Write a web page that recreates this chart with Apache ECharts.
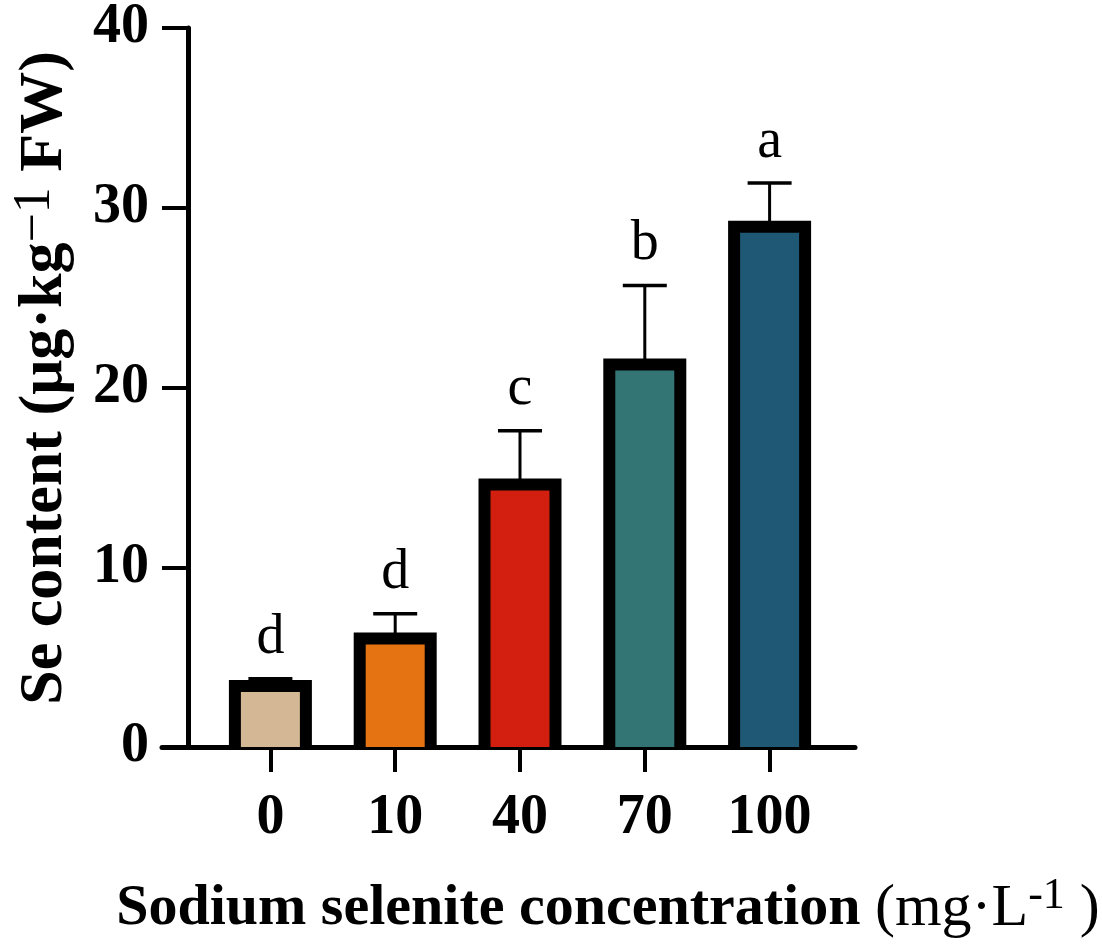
<!DOCTYPE html>
<html>
<head>
<meta charset="utf-8">
<style>
  html, body { margin: 0; padding: 0; background: #fff; }
  #main { width: 1102px; height: 950px; }
</style>
</head>
<body>
<div id="main"></div>
<script src="https://cdn.jsdelivr.net/npm/echarts@6/dist/echarts.min.js"></script>
<script>
// data
var categories = ['0', '10', '40', '70', '100'];
var means = [3.39, 6.04, 14.6, 21.28, 28.94];
var sds = [0.40, 1.37, 3.0, 4.4, 2.43];
var letters = ['d', 'd', 'c', 'b', 'a'];
var yTicks = [0, 10, 20, 30, 40];

var barColors = ['#D4B795', '#E57312', '#D21F10', '#327574', '#1E5874'];
var serif = '"Liberation Serif", "Times New Roman", serif';

var chart = echarts.init(document.getElementById('main'));

// bar drawn GraphPad style: thick border centred on the bar edge, open at the base
function renderBar(params, api) {
    var i = api.value(0);
    var top = api.coord([i, api.value(1)]);
    var base = api.coord([i, 0]);
    var half = 35.5, bw = 12;
    return {
        type: 'group',
        children: [
            { type: 'rect', shape: { x: top[0] - half, y: top[1], width: half * 2, height: base[1] - top[1] },
              style: { fill: barColors[i] } },
            { type: 'polyline',
              shape: { points: [[top[0] - half, base[1] + 2], [top[0] - half, top[1]], [top[0] + half, top[1]], [top[0] + half, base[1] + 2]] },
              style: { stroke: '#000', lineWidth: bw, fill: null, lineJoin: 'miter' } }
        ]
    };
}

function renderErr(params, api) {
    var i = api.value(0);
    var p0 = api.coord([i, api.value(1)]);
    var p1 = api.coord([i, api.value(2)]);
    return {
        type: 'group',
        children: [
            { type: 'line', shape: { x1: p0[0], y1: p0[1], x2: p1[0], y2: p1[1] }, style: { stroke: '#000', lineWidth: 3 } },
            { type: 'line', shape: { x1: p1[0] - 22, y1: p1[1], x2: p1[0] + 22, y2: p1[1] }, style: { stroke: '#000', lineWidth: 3.5 } },
            { type: 'text', x: p1[0], y: p1[1] - 13,
              style: { text: letters[i], font: '56px ' + serif, fill: '#000', align: 'center', verticalAlign: 'bottom' } }
        ]
    };
}

chart.setOption({
    animation: false,
    backgroundColor: '#fff',
    grid: [
        { left: 208, right: 270, top: 27, bottom: 203 },
        { left: 162, right: 247, top: 27, bottom: 203 }
    ],
    xAxis: [
        {
            type: 'category', gridIndex: 0, data: categories,
            axisLine: { show: false },
            axisTick: { show: true, alignWithLabel: true, length: 25, lineStyle: { color: '#000', width: 4 } },
            axisLabel: { color: '#000', fontFamily: serif, fontWeight: 'bold', fontSize: 56, margin: 44 }
        },
        {
            type: 'value', gridIndex: 1, min: 0, max: 1,
            axisLine: { show: true, onZero: false, lineStyle: { color: '#000', width: 5 } },
            axisTick: { show: false }, axisLabel: { show: false }, splitLine: { show: false }
        }
    ],
    yAxis: [
        {
            type: 'value', gridIndex: 0, min: yTicks[0], max: yTicks[yTicks.length - 1], interval: 10,
            offset: 20,
            axisLine: { show: true, lineStyle: { color: '#000', width: 5 } },
            axisTick: { show: true, length: 26, lineStyle: { color: '#000', width: 4 } },
            axisLabel: { color: '#000', fontFamily: serif, fontWeight: 'bold', fontSize: 56, margin: 39 },
            splitLine: { show: false }
        },
        { type: 'value', gridIndex: 1, show: false, min: 0, max: 1 }
    ],
    series: [
        {
            type: 'custom', xAxisIndex: 0, yAxisIndex: 0,
            renderItem: renderBar,
            data: categories.map(function (c, i) { return [i, means[i]]; }),
            z: 2
        },
        {
            type: 'custom', xAxisIndex: 0, yAxisIndex: 0,
            renderItem: renderErr,
            data: categories.map(function (c, i) { return [i, means[i], means[i] + sds[i]]; }),
            z: 1
        }
    ],
    graphic: [
        {
            type: 'text', x: 608, y: 909, z: 10,
            style: {
                text: '{b|Sodium selenite concentration }{r|(mg·L}{s|-1}{r| )}',
                align: 'center', verticalAlign: 'middle', fill: '#000',
                rich: {
                    b: { fontFamily: serif, fontWeight: 'bold', fontSize: 58, fill: '#000', lineHeight: 70 },
                    r: { fontFamily: serif, fontSize: 60, fill: '#000', lineHeight: 70 },
                    s: { fontFamily: serif, fontSize: 44, fill: '#000', verticalAlign: 'top', lineHeight: 70 }
                }
            }
        },
        {
            type: 'text', x: 45, y: 378, rotation: Math.PI / 2, z: 10,
            style: {
                text: '{b|Se content (μg·kg}{s|−1}{b| FW)}',
                align: 'center', verticalAlign: 'middle', fill: '#000',
                rich: {
                    b: { fontFamily: serif, fontWeight: 'bold', fontSize: 62, fill: '#000', lineHeight: 72 },
                    s: { fontFamily: serif, fontSize: 52, fill: '#000', verticalAlign: 'top', lineHeight: 72 }
                }
            }
        }
    ]
});
</script>
</body>
</html>
